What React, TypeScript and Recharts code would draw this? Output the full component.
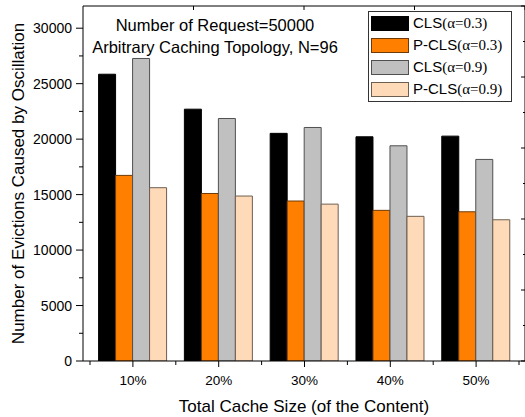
import React from 'react';
import { BarChart, Bar, XAxis, YAxis, Legend } from 'recharts';

const SANS = '"Liberation Sans", Arial, sans-serif';
const SERIF = '"Liberation Serif", "Times New Roman", serif';

// values
const sizes = ['10%', '20%', '30%', '40%', '50%'];
const clsA03 = [25850, 22700, 20520, 20210, 20270];
const pclsA03 = [16730, 15100, 14420, 13580, 13450];
const clsA09 = [27270, 21860, 21050, 19400, 18170];
const pclsA09 = [15620, 14870, 14140, 13040, 12730];

const yTicks = [0, 2500, 5000, 7500, 10000, 12500, 15000, 17500, 20000, 22500, 25000, 27500, 30000];
const rightTicks = [0, 0.5, 1, 1.5, 2, 2.5, 3, 3.5, 4, 4.5, 5];
const topTicks = [1, 2, 3, 4, 5, 6, 7, 8, 9];

const series = [
  { key: 'clsA03', name: 'CLS(α=0.3)', fill: '#000000', stroke: '#000000', values: clsA03 },
  { key: 'pclsA03', name: 'P-CLS(α=0.3)', fill: '#ff8000', stroke: '#6e3a08', values: pclsA03 },
  { key: 'clsA09', name: 'CLS(α=0.9)', fill: '#c0c0c0', stroke: '#505050', values: clsA09 },
  { key: 'pclsA09', name: 'P-CLS(α=0.9)', fill: '#ffdab9', stroke: '#6e5e50', values: pclsA09 },
];

const data = sizes.map((size, i) => {
  const row: any = { size };
  series.forEach((s) => {
    row[s.key] = s.values[i];
  });
  return row;
});

const BAND = 85.8;

const LeftTick = ({ x, y, payload }: any) => {
  const axisX = x + 11;
  const major = payload.value % 5000 === 0;
  return (
    <g>
      <line x1={axisX - (major ? 7 : 4)} x2={axisX} y1={y} y2={y} stroke="#000" />
      {major && (
        <text x={x} y={y} dy={5} textAnchor="end" fontSize={14} fontFamily={SANS} fill="#000">
          {payload.value}
        </text>
      )}
    </g>
  );
};

const BottomTick = ({ x, y, payload, index }: any) => {
  const axisY = y - 14;
  return (
    <g>
      <line x1={x} x2={x} y1={axisY} y2={axisY + 6} stroke="#000" />
      <line x1={x - BAND / 2} x2={x - BAND / 2} y1={axisY} y2={axisY + 4} stroke="#000" />
      {index === sizes.length - 1 && (
        <line x1={x + BAND / 2} x2={x + BAND / 2} y1={axisY} y2={axisY + 4} stroke="#000" />
      )}
      <text x={x} y={y} dy={10} textAnchor="middle" fontSize={13.5} fontFamily={SANS} fill="#000">
        {payload.value}
      </text>
    </g>
  );
};

const RightTick = ({ x, y, payload }: any) => {
  const axisX = x + 4;
  const major = Number.isInteger(payload.value);
  return <line x1={axisX - (major ? 4 : 2)} x2={axisX} y1={y} y2={y} stroke="#000" />;
};

// legend keeps the series order, not recharts' sorted payload
const renderLegend = () => (
  <div
    style={{
      border: '1px solid #333',
      background: '#fff',
      width: 140,
      boxSizing: 'content-box',
      padding: '0 0 1px 2px',
    }}
  >
    {series.map((s) => {
      const cut = s.name.indexOf('(');
      return (
        <div key={s.key} style={{ display: 'flex', alignItems: 'center', height: 22 }}>
          <div
            style={{
              width: 36,
              height: 13,
              background: s.fill,
              border: `1px solid ${s.stroke}`,
              marginRight: 4,
            }}
          />
          <span style={{ fontFamily: SANS, fontSize: 15, color: '#000', whiteSpace: 'nowrap' }}>
            {s.name.slice(0, cut)}
            <span style={{ fontFamily: SERIF }}>{s.name.slice(cut)}</span>
          </span>
        </div>
      );
    })}
  </div>
);

export default function App() {
  return (
    <div style={{ position: 'absolute', left: 0, top: 0, width: 525, height: 417, background: '#fff' }}>
      <BarChart
        width={525}
        height={417}
        data={data}
        margin={{ top: 6, right: 0, left: 0, bottom: 0 }}
        barCategoryGap="10%"
        barGap={0}
      >
        <XAxis
          dataKey="size"
          height={56}
          padding={{ left: 7, right: 6 }}
          interval={0}
          tickSize={6}
          tickMargin={8}
          tickLine={false}
          tick={<BottomTick />}
          axisLine={{ stroke: '#000' }}
          label={{
            value: 'Total Cache Size (of the Content)',
            position: 'insideBottom',
            offset: 5,
            style: { fontSize: 17, fontFamily: SANS, fill: '#000' },
          }}
        />
        <XAxis
          xAxisId="top"
          orientation="top"
          type="number"
          mirror
          domain={[0.0615, 9.939]}
          allowDataOverflow
          ticks={topTicks}
          interval={0}
          tickSize={4}
          tickFormatter={() => ''}
          tickLine={{ stroke: '#000' }}
          axisLine={{ stroke: '#000' }}
        />
        <YAxis
          width={83}
          domain={[0, 32000]}
          allowDataOverflow
          ticks={yTicks}
          interval={0}
          tickSize={7}
          tickMargin={4}
          tickLine={false}
          tick={<LeftTick />}
          axisLine={{ stroke: '#000' }}
          label={{
            value: 'Number of Evictions Caused by Oscillation',
            angle: -90,
            position: 'insideLeft',
            offset: 18,
            style: { textAnchor: 'middle', fontSize: 17, fontFamily: SANS, fill: '#000' },
          }}
        />
        <YAxis
          yAxisId="right"
          orientation="right"
          type="number"
          mirror
          domain={[0, 5]}
          allowDataOverflow
          ticks={rightTicks}
          interval={0}
          tickSize={4}
          tickMargin={0}
          tickLine={false}
          tick={<RightTick />}
          axisLine={{ stroke: '#000' }}
        />
        <Legend
          layout="vertical"
          align="center"
          verticalAlign="middle"
          wrapperStyle={{ left: 368, top: 11, width: 'auto', height: 'auto' }}
          content={renderLegend}
        />
        {series.map((s) => (
          <Bar
            key={s.key}
            dataKey={s.key}
            name={s.name}
            fill={s.fill}
            stroke={s.stroke}
            strokeWidth={1}
            isAnimationActive={false}
          />
        ))}
      </BarChart>
      <div
        style={{
          position: 'absolute',
          left: 0,
          top: 14,
          width: 430,
          textAlign: 'center',
          fontFamily: SANS,
          fontSize: 16.5,
          lineHeight: '22px',
          color: '#000',
          pointerEvents: 'none',
        }}
      >
        <div>Number of Request=50000</div>
        <div>Arbitrary Caching Topology, N=96</div>
      </div>
    </div>
  );
}
